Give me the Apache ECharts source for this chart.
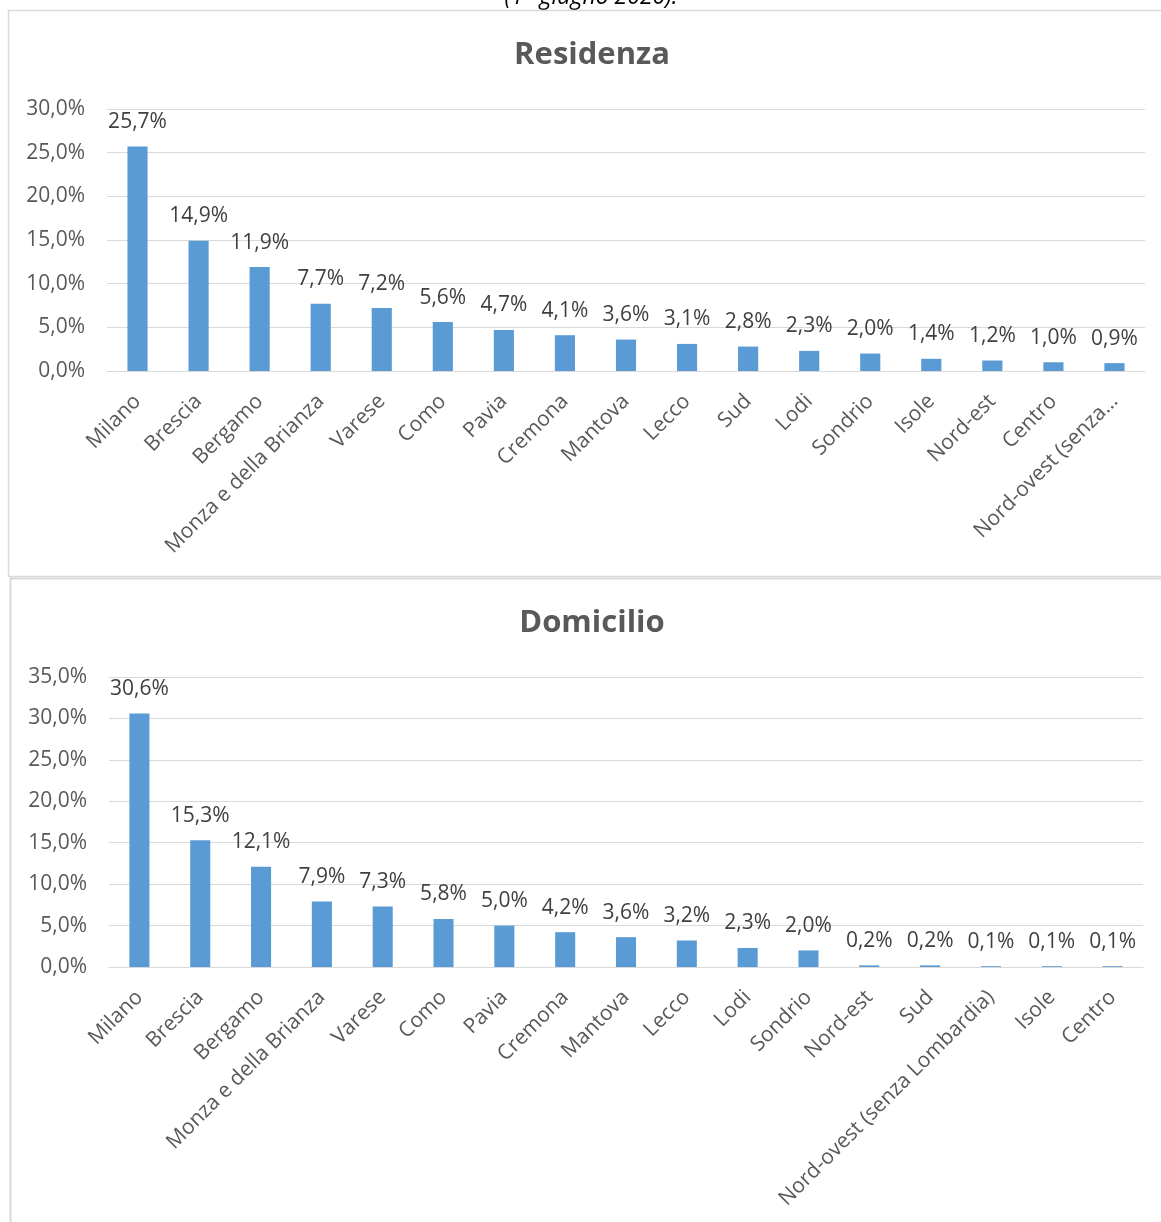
<!DOCTYPE html>
<html>
<head>
<meta charset="utf-8">
<script src="https://cdn.jsdelivr.net/npm/echarts@6/dist/echarts.min.js"></script>
<style>
  html, body { margin: 0; padding: 0; background: #ffffff; }
  #chart { width: 1161px; height: 1222px; }
</style>
</head>
<body>
<div id="chart"></div>
<script>
// Residenza: distribution by province / area of residence
const resCategories = ['Milano', 'Brescia', 'Bergamo', 'Monza e della Brianza', 'Varese', 'Como', 'Pavia',
  'Cremona', 'Mantova', 'Lecco', 'Sud', 'Lodi', 'Sondrio', 'Isole', 'Nord-est', 'Centro',
  'Nord-ovest (senza Lombardia)'];
const resValues = [25.7, 14.9, 11.9, 7.7, 7.2, 5.6, 4.7, 4.1, 3.6, 3.1, 2.8, 2.3, 2.0, 1.4, 1.2, 1.0, 0.9];

// Domicilio: distribution by province / area of domicile
const domCategories = ['Milano', 'Brescia', 'Bergamo', 'Monza e della Brianza', 'Varese', 'Como', 'Pavia',
  'Cremona', 'Mantova', 'Lecco', 'Lodi', 'Sondrio', 'Nord-est', 'Sud',
  'Nord-ovest (senza Lombardia)', 'Isole', 'Centro'];
const domValues = [30.6, 15.3, 12.1, 7.9, 7.3, 5.8, 5.0, 4.2, 3.6, 3.2, 2.3, 2.0, 0.2, 0.2, 0.1, 0.1, 0.1];

const FONT = '"Open Sans", "Noto Sans", sans-serif';
const pct = v => v.toFixed(1).replace('.', ',') + '%';
const GRID_COLOR = '#d9d9d9';
const BAR_COLOR = '#5b9bd5';
const FS = 21;

const chart = echarts.init(document.getElementById('chart'));

function yAxis(gridIndex, max) {
  return {
    type: 'value', gridIndex: gridIndex, min: 0, max: max, interval: 5,
    axisLabel: { formatter: v => pct(v), color: '#595959', fontSize: FS, fontFamily: FONT, margin: 22 },
    axisLine: { show: false }, axisTick: { show: false },
    splitLine: { lineStyle: { color: GRID_COLOR, width: 1 } }
  };
}

function xAxis(gridIndex, cats, truncate) {
  return {
    type: 'category', gridIndex: gridIndex, data: cats,
    axisLine: { lineStyle: { color: GRID_COLOR, width: 1 } },
    axisTick: { show: false },
    axisLabel: {
      rotate: 45, interval: 0, color: '#595959', fontSize: FS, fontFamily: FONT, margin: 27,
      formatter: truncate ? (s => s.length > 22 ? s.slice(0, 17) + '…' : s) : undefined
    }
  };
}

function barSeries(idx, values) {
  return {
    type: 'bar', xAxisIndex: idx, yAxisIndex: idx, data: values,
    barWidth: '33%', itemStyle: { color: BAR_COLOR },
    label: { show: true, position: 'top', distance: 14, formatter: p => pct(p.value),
      color: '#404040', fontSize: FS, fontFamily: FONT }
  };
}

function title(text, y) {
  return { type: 'text', x: 592, y: y, style: { text: text, textAlign: 'center', textVerticalAlign: 'middle',
    fontSize: 31, fontWeight: 'bold', fontFamily: FONT, fill: '#595959' } };
}

chart.setOption({
  animation: false,
  backgroundColor: '#ffffff',
  graphic: [
    { type: 'text', x: 591, y: -3, style: { text: '(1° giugno 2020).', textAlign: 'center',
      textVerticalAlign: 'middle', fontSize: 23, fontStyle: 'italic', fontFamily: FONT, fill: '#000000' } },
    { type: 'rect', shape: { x: 8.5, y: 10.5, width: 1170, height: 566 },
      style: { fill: 'none', stroke: GRID_COLOR, lineWidth: 1.5 } },
    { type: 'rect', shape: { x: 10.5, y: 578.5, width: 1170, height: 700 },
      style: { fill: 'none', stroke: GRID_COLOR, lineWidth: 2 } },
    title('Residenza', 55),
    title('Domicilio', 623)
  ],
  grid: [
    { left: 107, top: 109, width: 1038, height: 262 },
    { left: 109, top: 677, width: 1034, height: 290 }
  ],
  xAxis: [xAxis(0, resCategories, true), xAxis(1, domCategories, false)],
  yAxis: [yAxis(0, 30), yAxis(1, 35)],
  series: [barSeries(0, resValues), barSeries(1, domValues)]
});
</script>
</body>
</html>
